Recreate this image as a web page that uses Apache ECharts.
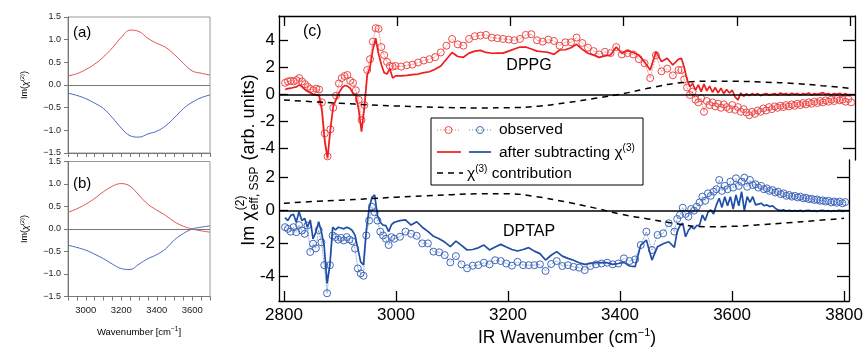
<!DOCTYPE html>
<html>
<head>
<meta charset="utf-8">
<script src="https://cdn.jsdelivr.net/npm/echarts@6.0.0/dist/echarts.min.js"></script>
<style>
  html, body { margin: 0; padding: 0; background: #fff; }
  #chart { width: 866px; height: 347px; }
</style>
</head>
<body>
<div id="chart"></div>
<script>
// ---- panels (a) and (b): model spectra ----
const wnAB = [2900, 2950, 3000, 3050, 3100, 3150, 3200, 3250, 3300, 3350, 3400, 3450, 3500, 3550, 3600, 3650, 3700];
const aRed  = [0.2, 0.25, 0.34, 0.46, 0.62, 0.82, 1.05, 1.21, 1.18, 1.03, 0.92, 0.83, 0.67, 0.48, 0.31, 0.26, 0.22];
const aBlue = [-0.18, -0.23, -0.3, -0.4, -0.52, -0.72, -0.95, -1.12, -1.15, -1.08, -1.02, -0.9, -0.72, -0.52, -0.38, -0.28, -0.22];
const bRed  = [0.37, 0.45, 0.55, 0.68, 0.83, 0.95, 1.01, 0.95, 0.75, 0.55, 0.42, 0.3, 0.16, 0.06, 0.0, -0.04, -0.07];
const bBlue = [-0.36, -0.41, -0.47, -0.56, -0.66, -0.78, -0.88, -0.9, -0.78, -0.66, -0.57, -0.44, -0.24, -0.1, 0.0, 0.04, 0.07];
const abTickLabels = [3000, 3200, 3400, 3600];

// ---- panel (c): measured spectra ----
const wnC = [
  2802, 2807, 2812, 2817, 2822, 2827, 2832, 2837, 2842, 2847,
  2852, 2857, 2862, 2867, 2872, 2877, 2882, 2887, 2892, 2897,
  2902, 2907, 2912, 2917, 2922, 2927, 2932, 2937, 2942, 2947,
  2952, 2957, 2962, 2967, 2972, 2977, 2982, 2987, 2992, 2997,
  3007, 3017, 3027, 3037, 3047, 3057, 3067, 3077, 3087, 3097,
  3107, 3117, 3127, 3137, 3147, 3157, 3167, 3177, 3187, 3197,
  3207, 3217, 3227, 3237, 3247, 3257, 3267, 3277, 3287, 3297,
  3307, 3317, 3327, 3337, 3347, 3357, 3367, 3377, 3387, 3397,
  3407, 3417, 3427, 3437, 3447, 3457, 3467, 3477, 3487, 3497,
  3502, 3507, 3512, 3517, 3522, 3527, 3532, 3537, 3542, 3547,
  3552, 3557, 3562, 3567, 3572, 3577, 3582, 3587, 3592, 3597,
  3602, 3607, 3612, 3617, 3622, 3627, 3632, 3637, 3642, 3647,
  3652, 3657, 3662, 3667, 3672, 3677, 3682, 3687, 3692, 3697,
  3702, 3707, 3712, 3717, 3722, 3727, 3732, 3737, 3742, 3747,
  3752, 3757, 3762, 3767, 3772, 3777, 3782, 3787, 3792, 3797,
  3802
];
const dppgObs = [
  0.85, 0.95, 1.0, 0.95, 1.05, 1.2, 0.95, 0.75, 0.55, 0.4,
  0.3, 0.42, 0.35, -0.6, -2.9, -4.6, -2.6, -1.0, -0.1, 0.8,
  1.2, 1.35, 1.43, 1.0, 0.85, 0.3, -0.4, -1.9, -0.8, 1.8,
  2.6, 3.9, 4.9, 4.85, 3.5, 2.9, 2.4, 2.1, 2.05, 2.1,
  2.05, 2.15, 2.2, 2.35, 2.5, 2.6, 2.75, 3.1, 3.6, 4.1,
  3.7, 3.6, 4.1, 4.3, 4.35, 4.4, 4.2, 4.15, 4.1, 4.05,
  4.0, 4.1, 4.4, 4.45, 4.0, 3.9, 4.05, 3.95, 3.6, 3.85,
  3.85, 4.2, 3.8, 3.45, 3.2, 2.95, 3.15, 3.05, 3.5, 2.95,
  3.05, 2.95, 2.6, 2.3, 1.2, 2.9, 1.7, 1.9, 1.4, 1.8,
  1.8, 1.1, 0.5, -0.05, 0.2, -0.4, -0.6, -0.3, -1.3, -0.5,
  -0.8, -0.6, -0.9, -0.7, -1.0, -0.75, -0.95, -1.1, -0.8, -1.15,
  -0.95, -1.3, -1.1, -1.35, -1.55, -1.3, -1.45, -1.2, -1.3, -1.05,
  -1.2, -0.95, -1.1, -0.9, -1.0, -0.85, -0.95, -0.8, -0.9, -0.75,
  -0.85, -0.7, -0.8, -0.65, -0.75, -0.6, -0.7, -0.55, -0.65, -0.5,
  -0.6, -0.45, -0.55, -0.4, -0.5, -0.35, -0.45, -0.4, -0.55, -0.35,
  -0.6
];
const dppgSub = [
  0.35, 0.42, 0.45, 0.5, 0.55, 0.7, 0.55, 0.35, 0.2, 0.1,
  -0.05, -0.05, -0.1, -1.2, -3.5, -4.74, -2.6, -0.9, -0.4, 0.1,
  0.45, 0.65, 0.6, 0.45, 0.05, -0.1, -1.16, -2.77, -1.0, 1.4,
  2.0, 3.3, 4.15, 3.0, 2.2, 1.6, 1.5, 1.9, 1.2, 1.36,
  1.36, 1.4, 1.45, 1.5, 1.6, 1.67, 1.85, 2.1, 2.6, 3.1,
  2.8, 2.74, 3.05, 3.2, 3.25, 3.1, 3.04, 3.05, 3.05, 3.2,
  3.35, 3.5, 3.5, 3.35, 3.2, 3.15, 3.1, 2.96, 3.28, 3.3,
  3.45, 3.7, 3.33, 3.04, 2.9, 2.74, 2.85, 2.91, 3.5, 3.04,
  3.23, 3.1, 2.9, 2.4, 1.8, 3.16, 2.42, 2.67, 2.17, 2.6,
  2.67, 2.0, 1.1, 0.56, 0.8, 0.3, 0.7, 0.2, 0.75, 0.25,
  0.6, 0.15, 0.5, 0.1, 0.45, 0.05, 0.35, 0.1, 0.3, -0.2,
  -0.42, 0.1, -0.15, 0.05, -0.1, 0.05, -0.05, 0.05, -0.1, 0.0,
  0.05, -0.05, 0.0, 0.05, -0.05, 0.1, 0.0, 0.05, -0.05, 0.08,
  0.0, 0.05, -0.05, 0.05, 0.0, 0.1, -0.05, 0.05, 0.0, 0.05,
  0.12, 0.0, 0.05, -0.05, 0.05, 0.0, 0.08, -0.05, 0.05, -0.1,
  0.0
];
const dptapObs = [
  -1.0, -1.1, -1.27, -1.0, -1.3, -0.87, -1.2, -1.4, -0.9, -2.5,
  -2.0, -2.28, -1.17, -1.92, -3.3, -5.0, -3.3, -1.5, -1.6, -1.75,
  -1.65, -1.8, -1.6, -1.75, -1.85, -2.3, -3.5, -3.8, -3.94, -1.5,
  -0.6, 0.24, -0.1, -0.6, -1.27, -1.5, -1.7, -2.08, -1.6, -1.7,
  -1.58, -1.27, -1.4, -1.52, -1.98, -1.98, -2.48, -2.52, -2.69, -3.13,
  -2.75, -3.25, -3.49, -3.33, -3.3, -3.15, -3.25, -3.0, -3.05, -3.2,
  -3.33, -3.1, -3.3, -3.3, -3.3, -3.25, -3.65, -3.23, -3.05, -3.35,
  -3.3, -3.4, -3.45, -3.6, -3.35, -3.25, -3.2, -3.15, -3.25, -3.2,
  -2.89, -3.05, -2.95, -2.08, -1.27, -2.38, -1.47, -1.37, -0.76, -1.27,
  -0.5, -0.26, 0.18, -0.2, -0.36, 0.1, 0.0, 0.24, 0.5, 0.85,
  0.6, 1.05, 0.9, 1.15, 1.3, 1.86, 1.2, 1.5, 1.3, 1.76,
  1.4, 1.96, 1.5, 1.75, 2.0, 1.45, 1.86, 1.55, 1.6, 1.4,
  1.5, 1.3, 1.35, 1.2, 1.25, 1.1, 1.15, 1.0, 1.05, 0.9,
  0.95, 0.85, 0.9, 0.8, 0.85, 0.75, 0.78, 0.7, 0.72, 0.65,
  0.68, 0.6, 0.62, 0.55, 0.6, 0.5, 0.56, 0.48, 0.55, 0.45,
  0.52
];
const dptapSub = [
  -0.42, -0.6, -0.3, -0.22, -0.7, -0.06, -0.6, -0.46, -1.0, -0.56,
  -1.7, -1.3, -0.67, -1.3, -2.2, -4.4, -3.3, -1.0, -1.17, -1.0,
  -1.05, -1.1, -1.0, -1.07, -1.2, -1.5, -2.3, -3.1, -3.29, -1.2,
  0.1, 0.8, 0.95, -0.3, -0.7, -0.87, -0.9, -1.27, -0.85, -0.7,
  -0.6, -0.56, -0.87, -0.67, -1.0, -1.25, -1.55, -1.7, -1.9, -2.18,
  -1.84, -2.1, -2.38, -2.35, -2.25, -2.08, -2.38, -2.2, -2.04, -2.2,
  -2.35, -2.44, -2.35, -2.24, -2.45, -2.6, -2.99, -2.7, -2.48, -2.75,
  -2.89, -3.0, -3.15, -3.25, -3.2, -3.15, -3.15, -3.15, -3.25, -3.2,
  -3.13, -3.35, -3.39, -2.08, -1.78, -2.99, -2.18, -2.0, -1.88, -2.22,
  -1.27, -0.9, -0.76, -1.58, -1.2, -0.97, -1.1, -0.9, -0.87, -0.26,
  -0.6, -0.1, 0.04, -0.2, 0.35, 0.75, 0.2, 0.85, 0.3, 0.85,
  0.1, 0.95, 0.3, 1.15, 0.0, 0.85, 0.5, 0.85, 0.35, 0.4,
  0.45, 0.3, 0.35, 0.25, 0.3, 0.15, 0.05, 0.0, 0.05, -0.03,
  0.02, -0.03, 0.0, -0.03, 0.02, -0.05, 0.0, 0.02, -0.03, 0.0,
  -0.05, 0.0, 0.02, -0.03, 0.0, -0.05, 0.0, -0.02, 0.02, -0.05,
  0.0
];
const chiWn = [2800, 2850, 2900, 2950, 3000, 3050, 3100, 3150, 3200, 3250, 3300,
  3350, 3400, 3450, 3500, 3550, 3600, 3650, 3700, 3750, 3800];
const dppgChi  = [-0.42, -0.55, -0.67, -0.78, -0.87, -0.94, -0.99, -1.01, -0.99, -0.88, -0.62,
  -0.3, 0.05, 0.5, 0.85, 0.97, 0.96, 0.9, 0.8, 0.64, 0.44];
const dptapChi = [0.45, 0.55, 0.63, 0.72, 0.82, 0.9, 0.97, 1.02, 1.02, 0.85, 0.55,
  0.2, -0.2, -0.5, -0.78, -0.97, -0.95, -0.85, -0.73, -0.6, -0.46];
const cTicksX = [2800, 3000, 3200, 3400, 3600, 3800];
const cTicksTop = [-4, -2, 0, 2, 4];
const cTicksBottom = [-4, -2, 0, 2];

const FONT = '"Liberation Sans", Arial, Helvetica, sans-serif';
const RED = '#ee1c1c', RED_OBS = '#ec4a4a';
const BLUE = '#1f4ea6', BLUE_OBS = '#4068bb';

const pts = (xs, ys) => xs.map((x, i) => [x, ys[i]]);

const measureCtx = document.createElement('canvas').getContext('2d');
function textWidth(text, size) {
  measureCtx.font = size + 'px ' + FONT;
  return measureCtx.measureText(text).width;
}

const chart = echarts.init(document.getElementById('chart'), null, { renderer: 'canvas' });

const abXAxis = (grid, labels) => ({
  type: 'value', gridIndex: grid, min: 2900, max: 3700, interval: 50,
  axisLine: { onZero: false, lineStyle: { color: '#777', width: 1 } },
  axisTick: { length: 4, lineStyle: { color: '#777' } },
  axisLabel: {
    show: labels, fontSize: 9.5, color: '#222', margin: 9,
    formatter: v => abTickLabels.indexOf(v) >= 0 ? String(v) : ''
  },
  splitLine: { show: false }
});
const abYAxis = grid => ({
  type: 'value', gridIndex: grid, min: -1.5, max: 1.5, interval: 0.5,
  axisLine: { show: true, onZero: false, lineStyle: { color: '#777', width: 1 } },
  axisTick: { show: true, length: 4, lineStyle: { color: '#777' } },
  axisLabel: {
    fontSize: 9, color: '#222', margin: 7,
    formatter: v => (v < 0 ? '\u2212' : '') + Math.abs(v).toFixed(1)
  },
  splitLine: { show: false }
});
const cXAxis = (grid, pos, labels) => ({
  type: 'value', gridIndex: grid, position: pos, min: 2791.2, max: 3808.8,
  axisLine: { onZero: false, lineStyle: { color: '#000', width: 1.3 } },
  axisTick: { inside: true, length: 10, customValues: cTicksX, lineStyle: { color: '#000', width: 1.3 } },
  axisLabel: { show: labels, customValues: cTicksX, fontSize: 17, color: '#000', margin: 6,
    formatter: v => String(v) },
  splitLine: { show: false }
});
const cYAxis = (grid, pos, min, max, ticks, labels) => ({
  type: 'value', gridIndex: grid, position: pos, min: min, max: max,
  axisLine: { show: true, onZero: false, lineStyle: { color: '#000', width: 1.3 } },
  axisTick: { show: true, inside: true, length: pos === 'left' ? 9 : 12, customValues: ticks,
    lineStyle: { color: '#000', width: 1.3 } },
  axisLabel: { show: labels, customValues: ticks, fontSize: 17, color: '#000', margin: 4,
    formatter: v => String(v) },
  splitLine: { show: false }
});

const zeroLine = (color, width) => ({
  silent: true, symbol: ['none', 'none'], label: { show: false },
  lineStyle: { color: color, width: width, type: 'solid' },
  data: [{ yAxis: 0 }]
});
const smoothLine = (name, xi, yi, xs, ys, color, extra) => Object.assign({
  type: 'line', name: name, xAxisIndex: xi, yAxisIndex: yi, data: pts(xs, ys),
  smooth: 0.4, symbol: 'none', silent: true,
  lineStyle: { color: color, width: 1 }
}, extra || {});
const obsSeries = (name, xi, yi, ys, color) => ({
  type: 'line', name: name, xAxisIndex: xi, yAxisIndex: yi, data: pts(wnC, ys),
  symbol: 'circle', symbolSize: 7, silent: true, z: 2,
  itemStyle: { color: 'rgba(255,255,255,0)', borderColor: color, borderWidth: 1 },
  lineStyle: { color: color, width: 0.8, type: 'dotted' }
});
const subSeries = (name, xi, yi, ys, color) => ({
  type: 'line', name: name, xAxisIndex: xi, yAxisIndex: yi, data: pts(wnC, ys),
  symbol: 'none', silent: true, z: 3,
  lineStyle: { color: color, width: 1.7 },
  markLine: zeroLine('#000', 1.5)
});
const chiSeries = (name, xi, yi, ys) => ({
  type: 'line', name: name, xAxisIndex: xi, yAxisIndex: yi, data: pts(chiWn, ys),
  smooth: 0.5, symbol: 'none', silent: true, z: 4,
  lineStyle: { color: '#000', width: 1.5, type: [6, 5] }
});

// rotated y title of panel (c): Im chi^(2)_(eff, SSP) (arb. units)
const tA = 'Im \u03c7', tSub = 'eff, SSP', tC = ' (arb. units)';
const wA = textWidth(tA, 18), wS = textWidth(tSub, 12), wC = textWidth(tC, 18);
const x0 = -(wA + wS + wC + 2) / 2;
const txt = (x, y, text, size, extra) => ({
  type: 'text', x: x, y: y, silent: true,
  style: Object.assign({ text: text, fontSize: size, fontFamily: FONT, fill: '#000',
    align: 'left', verticalAlign: 'middle' }, extra || {})
});
const supRich = (size, sup) => ({
  t: { fontSize: size, fontFamily: FONT, fill: '#000' },
  i: { fontSize: size, fontFamily: FONT, fontStyle: 'italic', fill: '#000' },
  s: { fontSize: sup, fontFamily: FONT, fill: '#000', padding: [0, 0, Math.round(sup * 0.9), 0] }
});
const abTitle = '{t|Im(}{i|\u03c7}{s|(2)}{t|)}';

const graphic = [
  txt(73, 33, '(a)', 15),
  txt(73, 184, '(b)', 15),
  txt(303, 32, '(c)', 16),
  txt(529, 66, 'DPPG', 16, { align: 'center' }),
  txt(529, 232, 'DPTAP', 16, { align: 'center' }),
  // y titles of (a) and (b)
  Object.assign(txt(25, 85, abTitle, 9, { align: 'center', rich: supRich(9, 6) }), { rotation: Math.PI / 2 }),
  Object.assign(txt(25, 229, abTitle, 9, { align: 'center', rich: supRich(9, 6) }), { rotation: Math.PI / 2 }),
  txt(139, 332, '{t|Wavenumber [cm}{s|\u22121}{t|]}', 9.5, { align: 'center', rich: supRich(9.5, 6.5) }),
  // x title of (c)
  txt(567, 338, '{t|IR Wavenumber (cm}{s|\u22121}{t|)}', 17.5, { align: 'center', rich: supRich(17.5, 11) }),
  {
    type: 'group', x: 249, y: 160, rotation: Math.PI / 2, silent: true,
    children: [
      txt(x0, 0, tA, 18),
      txt(x0 + wA + 1, -8, '(2)', 12),
      txt(x0 + wA + 1, 6, tSub, 12),
      txt(x0 + wA + wS + 2, 0, tC, 18)
    ]
  },
  // legend box
  {
    type: 'group', z: 100, silent: true,
    children: [
      { type: 'rect', shape: { x: 431, y: 118, width: 212, height: 67 },
        style: { fill: '#fff', stroke: '#000', lineWidth: 1 } },
      { type: 'line', shape: { x1: 437, y1: 130, x2: 460, y2: 130 }, style: { stroke: RED_OBS, lineWidth: 0.8, lineDash: [1, 2] } },
      { type: 'circle', shape: { cx: 448.5, cy: 130, r: 3.5 }, style: { fill: 'none', stroke: RED_OBS, lineWidth: 1 } },
      { type: 'line', shape: { x1: 469, y1: 130, x2: 491, y2: 130 }, style: { stroke: BLUE_OBS, lineWidth: 0.8, lineDash: [1, 2] } },
      { type: 'circle', shape: { cx: 480, cy: 130, r: 3.5 }, style: { fill: 'none', stroke: BLUE_OBS, lineWidth: 1 } },
      { type: 'line', shape: { x1: 437, y1: 152, x2: 461, y2: 152 }, style: { stroke: RED, lineWidth: 1.7 } },
      { type: 'line', shape: { x1: 469, y1: 152, x2: 491, y2: 152 }, style: { stroke: BLUE, lineWidth: 1.7 } },
      { type: 'line', shape: { x1: 437, y1: 173, x2: 463, y2: 173 }, style: { stroke: '#000', lineWidth: 1.5, lineDash: [6, 5] } },
      txt(499, 130, 'observed', 15.5),
      txt(499, 153, '{t|after subtracting \u03c7}{s|(3)}', 15.5, { rich: supRich(15.5, 10) }),
      txt(467, 174, '{t|\u03c7}{s|(3)}{t| contribution}', 15.5, { rich: supRich(15.5, 10) })
    ]
  }
];

chart.setOption({
  animation: false,
  backgroundColor: '#fff',
  textStyle: { fontFamily: FONT },
  grid: [
    { left: 68, top: 17, width: 142, height: 136, show: true, borderColor: '#999', borderWidth: 1 },
    { left: 68, top: 161.5, width: 142, height: 135, show: true, borderColor: '#999', borderWidth: 1 },
    { left: 279, top: 16, width: 576, height: 144 },
    { left: 279, top: 160, width: 576, height: 141 }
  ],
  xAxis: [
    abXAxis(0, false),
    abXAxis(1, true),
    cXAxis(2, 'top', false),
    cXAxis(3, 'bottom', true)
  ],
  yAxis: [
    abYAxis(0),
    abYAxis(1),
    cYAxis(2, 'left', -4.87, 5.8, cTicksTop, true),
    cYAxis(2, 'right', -4.87, 5.8, cTicksTop, false),
    cYAxis(3, 'left', -5.47, 3.07, cTicksBottom, true),
    cYAxis(3, 'right', -5.47, 3.07, cTicksBottom, false)
  ],
  series: [
    smoothLine('a red', 0, 0, wnAB, aRed, '#e25252', { markLine: zeroLine('#777', 1) }),
    smoothLine('a blue', 0, 0, wnAB, aBlue, '#4a68c0'),
    smoothLine('b red', 1, 1, wnAB, bRed, '#e25252', { markLine: zeroLine('#777', 1) }),
    smoothLine('b blue', 1, 1, wnAB, bBlue, '#4a68c0'),
    obsSeries('DPPG observed', 2, 2, dppgObs, RED_OBS),
    subSeries('DPPG after subtracting', 2, 2, dppgSub, RED),
    chiSeries('DPPG chi3', 2, 2, dppgChi),
    obsSeries('DPTAP observed', 3, 4, dptapObs, BLUE_OBS),
    subSeries('DPTAP after subtracting', 3, 4, dptapSub, BLUE),
    chiSeries('DPTAP chi3', 3, 4, dptapChi)
  ],
  graphic: graphic
});
</script>
</body>
</html>
